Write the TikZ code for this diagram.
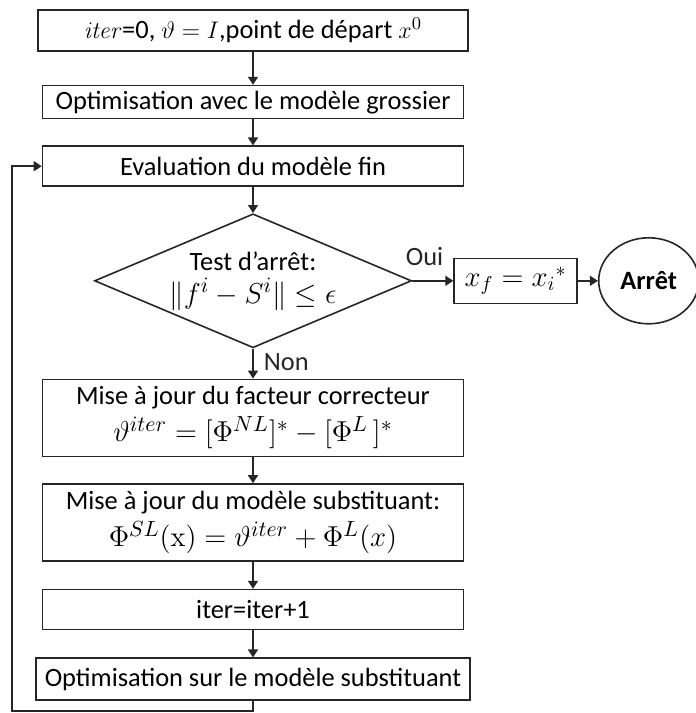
\documentclass[tikz,border=0pt]{standalone}
\usepackage{amsmath}
\usepackage[no-math]{fontspec}
\setmainfont{Carlito}
\usepackage{tikz}
\usetikzlibrary{shapes.geometric, arrows.meta, positioning}

\begin{document}
\begin{tikzpicture}[
    node distance=13.5pt,
    box/.style={rectangle, draw=black!85, thick, minimum width=210.5pt, align=center, inner sep=0pt, font=\fontsize{13.2}{15.5}\selectfont},
    test/.style={diamond, draw=black!85, thick, aspect=2.37, inner sep=-5pt, minimum width=158.5pt, minimum height=67pt, align=center, font=\fontsize{13.2}{15.5}\selectfont},
    stopnode/.style={ellipse, draw=black!85, thick, minimum width=50pt, minimum height=43pt, inner sep=1pt, font=\fontsize{13.2}{15.5}\selectfont\bfseries},
    answer/.style={font=\fontsize{13.2}{15.5}\selectfont, inner sep=1pt},
    arrow/.style={-{Triangle[width=5pt,length=4pt]}, thick, color=black!85}
]
    \useasboundingbox (0,0) rectangle (348pt,-356.5pt);

    % Main flow
    \node (init) [box, minimum width=215pt, minimum height=20.5pt] at (126.5pt,-15.25pt) {$\mathit{iter}$=0, $\vartheta = I$,point de départ $x^{0}$};
    \node (coarse) [box, minimum height=16.5pt, below=16.5pt of init] {Optimisation avec le modèle grossier};
    \node (fine) [box, minimum height=20pt, below=13pt of coarse] {Evaluation du modèle fin};
    \node (test) [test, below=13pt of fine] {Test d’arrêt:\\[1pt] {\fontsize{15.5}{17}\selectfont $\lVert f^{i} - S^{i} \rVert \le \epsilon$}};
    \node (corr) [box, minimum height=38.5pt, below=15pt of test] {Mise à jour du facteur correcteur\\[3pt] {\fontsize{15}{17}\selectfont $\vartheta^{iter} = [\Phi^{NL}]^{*} - [\Phi^{L}\,]^{*}$}};
    \node (surr) [box, minimum height=38.5pt, below=13pt of corr] {Mise à jour du modèle substituant:\\[3pt] {\fontsize{15}{17}\selectfont $\Phi^{SL}(\mathrm{x}) = \vartheta^{iter} + \Phi^{L}(x)$}};
    \node (incr) [box, minimum height=20pt, below=of surr] {iter=iter+1};
    \node (opt) [box, minimum width=217pt, minimum height=21pt, below=of incr] {Optimisation sur le modèle substituant};

    % Exit branch
    \node (xf) [box, minimum width=61.5pt, minimum height=22.5pt, right=20.5pt of test] {\Large $x_f = x_i{}^{*}$};
    \node (stop) [stopnode, right=10pt of xf] {Arrêt};

    % Return point of the loop
    \coordinate (ret) at (6pt,-355.5pt);

    % Arrows
    \draw [arrow] (init) -- (coarse);
    \draw [arrow] (coarse) -- (fine);
    \draw [arrow] (fine) -- (test);
    \draw [arrow] (test) -- node[answer, pos=0.45, right=4pt] {Non} (corr);
    \draw [arrow] (corr) -- (surr);
    \draw [arrow] (surr) -- (incr);
    \draw [arrow] (incr) -- (opt);
    \draw [arrow] (test) -- node[answer, pos=0.3, above=6pt] {Oui} (xf);
    \draw [arrow] (xf) -- (stop);
    \draw [arrow] (opt.south) |- (ret) |- (fine.west);

\end{tikzpicture}
\end{document}
